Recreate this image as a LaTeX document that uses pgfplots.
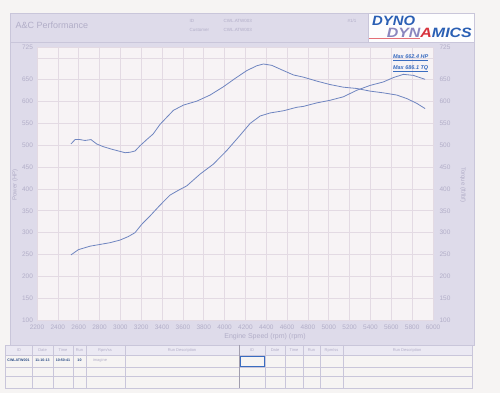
\documentclass[border=0pt]{standalone}
\usepackage{pgfplots}
\pgfplotsset{compat=1.18}
\usepackage{pgfplotstable}
\usepackage{fontspec}
\setmainfont{Liberation Sans}
\definecolor{pagebg}{HTML}{F6F4F3}
\definecolor{panel}{HTML}{DEDBEA}
\definecolor{panelline}{HTML}{C9C6DA}
\definecolor{plotbg}{HTML}{F7F3F5}
\definecolor{gridc}{HTML}{E3DAE3}
\definecolor{lbl}{HTML}{B2AEC8}
\definecolor{curve}{HTML}{6F85C0}
\definecolor{maxblue}{HTML}{3A6CC0}
\definecolor{logoblue}{HTML}{2A5FB4}
\definecolor{logopurple}{HTML}{8A86BE}
\definecolor{logored}{HTML}{D8323C}

\pgfplotstableread{
rpm tq
2526 503
2565 513
2613 513
2661 511
2718 513
2773 503
2834 497
2917 491
2981 487
3045 483
3093 484
3141 487
3189 499
3253 513
3315 526
3381 548
3445 564
3509 580
3605 592
3733 601
3861 615
3989 634
4101 653
4213 671
4309 682
4373 686.1
4453 683
4565 671
4661 661
4756 656
4884 647
5012 639
5140 633
5269 630
5396 624
5524 620
5652 615
5748 607
5844 596
5924 584
}\torque

\pgfplotstableread{
rpm hp
2526 249
2597 261
2709 269
2805 273
2901 277
2997 283
3076 291
3141 300
3205 319
3284 338
3381 363
3477 386
3557 397
3637 407
3765 434
3893 457
4021 488
4149 523
4245 550
4341 567
4437 574
4565 579
4693 587
4756 589
4884 597
5012 603
5140 611
5269 626
5396 637
5524 645
5620 655
5716 662.4
5812 660
5924 651
}\power

\begin{document}
\begin{tikzpicture}
\path[use as bounding box, fill=pagebg] (0,0) rectangle (500pt,393pt);
\begin{scope}[x=1pt,y=-1pt,shift={(0,393pt)}]
  % panel
  \fill[panel] (10,13) rectangle (474,345);
  \draw[panelline, line width=0.5pt] (10,13) rectangle (474,42);
  \draw[panelline, line width=0.5pt] (10,42) rectangle (474,345);
  % header text
  \node[anchor=west, text=lbl, font=\fontsize{9}{10}\selectfont] at (12,25) {A\&C Performance};
  \node[anchor=west, text=lbl, font=\fontsize{4.5}{5}\selectfont] at (186,21) {ID};
  \node[anchor=west, text=lbl, font=\fontsize{4.5}{5}\selectfont] at (186,30) {Customer};
  \node[anchor=west, text=lbl, font=\fontsize{4.5}{5}\selectfont] at (220,21) {CWL.ATW003};
  \node[anchor=west, text=lbl, font=\fontsize{4.5}{5}\selectfont] at (220,30) {CWL.ATW003};
  \node[anchor=west, text=lbl, font=\fontsize{4.5}{5}\selectfont] at (344,21) {\#1/1};
  % logo
  \fill[white!95!panel] (368,13) rectangle (474,42.5);
  \draw[panelline, line width=0.5pt] (368,13) rectangle (474,42.5);
  \node[anchor=west, inner sep=0pt, text=logoblue, font=\bfseries\itshape\fontsize{13.5}{14}\selectfont] at (372,21) {\scalebox{1.1}[1]{DYNO}};
  \node[anchor=east, inner sep=0pt, font=\bfseries\itshape\fontsize{13.5}{14}\selectfont] at (472,33) {\scalebox{1.18}[1]{\textcolor{logopurple}{DYN}\textcolor{logored}{A}\textcolor{logoblue}{MICS}}};
  \draw[logored!70!white, line width=0.8pt] (369,38.5) -- (420,38.5);
  % plot background
  \fill[plotbg] (37,47) rectangle (433,320);
  % axis titles
  \node[rotate=90, text=lbl, font=\fontsize{6}{7}\selectfont] at (15,185) {Power (HP)};
  \node[rotate=-90, text=lbl, font=\fontsize{6}{7}\selectfont] at (463,185) {Torque (ft/lbf)};
  \node[text=lbl, font=\fontsize{7}{8}\selectfont] at (265,337) {Engine Speed (rpm) (rpm)};
  % bottom table
  \fill[panel!60!white] (5,345) rectangle (472,355);
  \draw[panelline, line width=0.5pt] (5,345) rectangle (472,388);
  \foreach \yy in {355,367,376} {\draw[panelline, line width=0.4pt] (5,\yy) -- (472,\yy);}
  \foreach \xx in {32,53,73,86,125,239,265,285,303,320,343} {\draw[panelline, line width=0.4pt] (\xx,345) -- (\xx,388);}
  \draw[panelline!80!black, line width=0.5pt] (239,345) -- (239,388);
  \begin{scope}[every node/.style={text=lbl, font=\fontsize{4}{5}\selectfont}]
    \node at (19,350) {ID};
    \node at (42.5,350) {Date};
    \node at (63,350) {Time};
    \node at (79.5,350) {Run};
    \node at (105,350) {Rpm/ss};
    \node at (182,350) {Run Description};
    \node at (252,350) {ID};
    \node at (275,350) {Date};
    \node at (294,350) {Time};
    \node at (311.5,350) {Run};
    \node at (331.5,350) {Rpm/ss};
    \node at (407,350) {Run Description};
    \node at (100,360.5) {imagine};
  \end{scope}
  \draw[maxblue, line width=0.4pt] (240,356) rectangle (264,366);
  \begin{scope}[every node/.style={text=maxblue!70!black, font=\bfseries\fontsize{3.6}{4}\selectfont, inner sep=0pt}]
    \node at (18.5,360.5) {CWLATW001};
    \node at (42.5,360.5) {11-10-13};
    \node at (63,360.5) {10:50:41};
    \node at (79.5,360.5) {10};
  \end{scope}
\end{scope}

\begin{axis}[
  at={(37pt,73pt)}, anchor=south west,
  scale only axis, width=396pt, height=273pt,
  xmin=2200, xmax=6000, ymin=100, ymax=725,
  xtick={2200,2400,...,6000},
  ytick={100,150,...,700,725},
  yticklabels={100,150,200,250,300,350,400,450,500,550,600,650,,725},
  grid=major, major grid style={gridc, line width=0.6pt},
  major tick length=0pt,
  axis line style={gridc, line width=0.6pt},
  /pgf/number format/assume math mode=true,
  /pgf/number format/1000 sep={},
  tick label style={text=lbl, font=\fontsize{6.5}{7}\selectfont},
  yticklabel style={xshift=-0.5pt},
  xticklabel style={yshift=-1pt},
  clip=false,
]
\addplot[curve, line width=0.8pt] table[x=rpm, y=tq] {\torque};
\addplot[curve, line width=0.8pt] table[x=rpm, y=hp] {\power};
\node[anchor=west, inner sep=0pt, text=maxblue, font=\bfseries\itshape\fontsize{5.5}{6}\selectfont] at (axis cs:5615,700) {\underline{Max 662.4 HP}};
\node[anchor=west, inner sep=0pt, text=maxblue, font=\bfseries\itshape\fontsize{5.5}{6}\selectfont] at (axis cs:5615,675) {\underline{Max 686.1 TQ}};
\end{axis}

\begin{axis}[
  at={(37pt,73pt)}, anchor=south west,
  scale only axis, width=396pt, height=273pt,
  xmin=2200, xmax=6000, ymin=100, ymax=725,
  hide x axis, axis y line*=right,
  ytick={100,150,...,700,725},
  yticklabels={100,150,200,250,300,350,400,450,500,550,600,650,,725},
  major tick length=0pt,
  axis line style={draw=none},
  /pgf/number format/assume math mode=true,
  tick label style={text=lbl, font=\fontsize{6.5}{7}\selectfont},
  yticklabel style={xshift=3pt},
]
\end{axis}
\end{tikzpicture}
\end{document}
